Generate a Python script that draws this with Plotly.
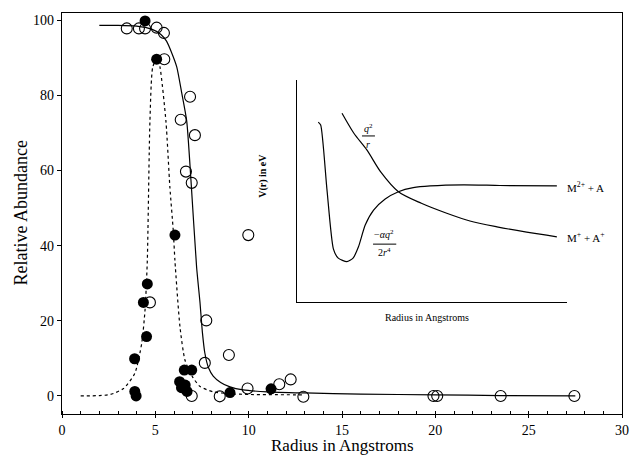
import plotly.graph_objects as go

# ---- main data (Radius in Angstroms, Relative Abundance) ----
open_x = [3.47, 4.12, 4.45, 5.07, 5.46, 5.48, 6.86, 6.36, 7.12, 6.64, 6.95, 9.98, 4.71,
          7.73, 7.65, 8.94, 6.95, 8.45, 9.94, 11.64, 12.25, 12.93, 19.9, 20.1, 23.5, 27.45]
open_y = [97.8, 97.8, 97.8, 98.0, 96.6, 89.6, 79.6, 73.5, 69.4, 59.7, 56.7, 42.8, 24.9,
          20.1, 8.8, 10.9, 0.0, -0.1, 2.0, 3.1, 4.4, -0.2, 0.0, 0.0, 0.0, 0.0]

filled_x = [4.45, 5.07, 6.05, 4.57, 4.36, 4.53, 3.89, 3.9, 3.97, 6.55, 6.95, 6.3, 6.4,
            6.6, 6.7, 9.0, 11.2]
filled_y = [99.8, 89.6, 42.8, 29.8, 24.9, 15.8, 9.9, 1.2, 0.0, 6.9, 6.9, 3.8, 2.2,
            2.9, 1.2, 0.9, 1.9]

solid_x = [2.0, 3.0, 4.0, 4.8, 5.3, 5.6, 5.9, 6.15, 6.4, 6.68, 6.91, 7.21, 7.39, 7.52,
           7.65, 7.85, 8.1, 8.5, 9.0, 9.7, 11.0, 13.0, 16.0, 20.0, 23.5, 27.5]
solid_y = [98.6, 98.6, 98.4, 97.6, 96.2, 94.4, 91.0, 87.5, 81.0, 73.2, 57.3, 34.3, 25.0, 17.0,
           11.5, 7.5, 5.3, 3.6, 2.4, 1.6, 1.1, 0.8, 0.5, 0.3, 0.1, 0.0]

dash_x = [1.0, 2.0, 2.6, 3.3, 3.9, 4.27, 4.45, 4.57, 4.71, 4.86, 5.1, 5.25, 5.57, 5.78,
          5.96, 6.05, 6.32, 6.59, 7.0, 7.4, 8.1, 9.0, 10.0, 13.0]
dash_y = [0.0, 0.1, 0.4, 2.0, 6.0, 14.0, 23.0, 36.0, 73.0, 87.5, 90.0, 87.5, 73.0, 55.5,
          44.0, 36.0, 18.4, 9.5, 5.0, 2.5, 1.1, 0.6, 0.4, 0.3]

x_ticks = [0, 5, 10, 15, 20, 25, 30]
y_ticks = [0, 20, 40, 60, 80, 100]

# ---- inset schematic data (arbitrary units) ----
coul_x = [1.66, 2.1, 2.58, 3.1, 3.75, 4.6, 5.54, 6.4, 7.4, 8.5, 9.62]
coul_y = [8.5, 7.6, 6.85, 5.85, 4.97, 4.45, 4.0, 3.65, 3.39, 3.15, 2.94]

pol_x = [0.78, 0.87, 1.1, 1.34, 1.52, 1.84, 2.07, 2.27, 2.52, 2.83, 3.26, 3.75, 4.3, 4.93,
         6.16, 7.5, 9.62]
pol_y = [8.1, 7.97, 5.1, 2.4, 1.98, 1.82, 1.98, 2.49, 3.47, 4.14, 4.64, 4.97, 5.15, 5.23,
         5.28, 5.25, 5.23]

serif = "Liberation Serif"
blk = "black"

fig = go.Figure()

fig.add_trace(go.Scatter(x=dash_x, y=dash_y, mode="lines",
                         line=dict(color=blk, width=1.2, dash="3px,3px", shape="spline", smoothing=0.6),
                         hoverinfo="skip", showlegend=False))
fig.add_trace(go.Scatter(x=solid_x, y=solid_y, mode="lines",
                         line=dict(color=blk, width=1.2, shape="spline", smoothing=0.6),
                         hoverinfo="skip", showlegend=False))
fig.add_trace(go.Scatter(x=open_x, y=open_y, mode="markers",
                         marker=dict(symbol="circle-open", size=11, color=blk, line=dict(width=1.1)),
                         showlegend=False))
fig.add_trace(go.Scatter(x=filled_x, y=filled_y, mode="markers",
                         marker=dict(symbol="circle", size=11, color=blk),
                         showlegend=False))

# inset curves
fig.add_trace(go.Scatter(x=coul_x, y=coul_y, xaxis="x2", yaxis="y2", mode="lines",
                         line=dict(color=blk, width=1.2, shape="spline", smoothing=0.8),
                         showlegend=False, hoverinfo="skip"))
fig.add_trace(go.Scatter(x=pol_x, y=pol_y, xaxis="x2", yaxis="y2", mode="lines",
                         line=dict(color=blk, width=1.2, shape="spline", smoothing=0.6),
                         showlegend=False, hoverinfo="skip"))

fig.update_layout(
    width=630, height=455, autosize=False,
    margin=dict(l=62, r=8, t=13, b=41),
    paper_bgcolor="white", plot_bgcolor="white",
    font=dict(family=serif, color=blk, size=14),
    xaxis=dict(range=[0, 30], tickvals=x_ticks, showgrid=False, zeroline=False,
               showline=True, linecolor=blk, linewidth=1.3, mirror=True, automargin=False,
               ticks="outside", ticklen=3, tickcolor=blk,
               minor=dict(ticks="inside", dtick=1, ticklen=3, tickcolor=blk),
               tickfont=dict(family=serif, size=14)),
    yaxis=dict(range=[-4.8, 101.9], tickvals=y_ticks, showgrid=False, zeroline=False,
               showline=True, linecolor=blk, linewidth=1.3, mirror=True, automargin=False,
               ticks="outside", ticklen=4, tickcolor=blk,
               tickfont=dict(family=serif, size=14)),
    xaxis2=dict(domain=[0.42, 0.902], anchor="y2", range=[0, 10], showgrid=False,
                zeroline=False, showline=True, linecolor=blk, linewidth=1.2,
                showticklabels=False, ticks=""),
    yaxis2=dict(domain=[0.279, 0.833], anchor="x2", range=[0, 10], showgrid=False,
                zeroline=False, showline=True, linecolor=blk, linewidth=1.2,
                showticklabels=False, ticks=""),
)

ann = []
ann.append(dict(text="Radius in Angstroms", x=0.5, y=-0.078, xref="paper", yref="paper",
                showarrow=False, font=dict(family=serif, size=17), yanchor="middle"))
ann.append(dict(text="Relative Abundance", x=-0.075, y=0.5, xref="paper", yref="paper",
                showarrow=False, textangle=-90, font=dict(family=serif, size=18), xanchor="center"))
ann.append(dict(text="<b>V(r) in eV</b>", x=0.359, y=0.594, xref="paper", yref="paper",
                showarrow=False, textangle=-90, font=dict(family=serif, size=10)))
ann.append(dict(text="Radius in Angstroms", x=0.652, y=0.222, xref="paper", yref="paper",
                showarrow=False, font=dict(family=serif, size=10)))
ann.append(dict(text="<i>q</i><sup>2</sup>", x=2.63, y=7.85, xref="x2", yref="y2",
                showarrow=False, font=dict(family=serif, size=10)))
ann.append(dict(text="<i>r</i>", x=2.63, y=7.1, xref="x2", yref="y2",
                showarrow=False, font=dict(family=serif, size=10)))
ann.append(dict(text="−<i>αq</i><sup>2</sup>", x=3.22, y=3.05, xref="x2", yref="y2",
                showarrow=False, font=dict(family=serif, size=10)))
ann.append(dict(text="2<i>r</i><sup>4</sup>", x=3.22, y=2.25, xref="x2", yref="y2",
                showarrow=False, font=dict(family=serif, size=10)))
ann.append(dict(text="M<sup>2+</sup> + A", x=9.93, y=5.2, xref="x2", yref="y2", xanchor="left",
                showarrow=False, font=dict(family=serif, size=11)))
ann.append(dict(text="M<sup>+</sup> + A<sup>+</sup>", x=9.93, y=2.93, xref="x2", yref="y2",
                xanchor="left", showarrow=False, font=dict(family=serif, size=11)))
fig.update_layout(annotations=ann)

fig.add_shape(type="line", xref="x2", yref="y2", x0=2.4, x1=2.88, y0=7.48, y1=7.48,
              line=dict(color=blk, width=1))
fig.add_shape(type="line", xref="x2", yref="y2", x0=2.81, x1=3.67, y0=2.61, y1=2.61,
              line=dict(color=blk, width=1))

fig.write_html("out.html", config={"responsive": False, "displayModeBar": False},
               default_width="630px", default_height="455px",
               post_script="document.body.style.margin='0';document.body.style.overflow='hidden';")
